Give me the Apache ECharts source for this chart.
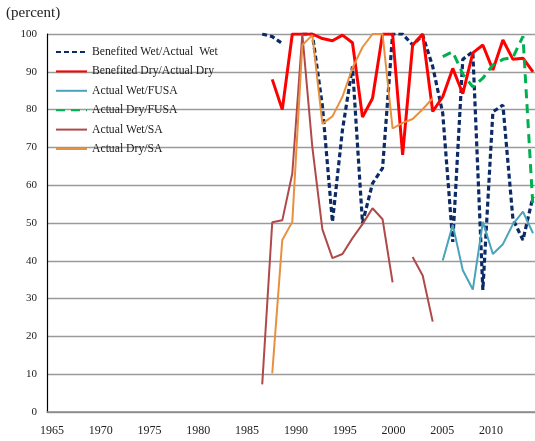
<!DOCTYPE html>
<html>
<head>
<meta charset="utf-8">
<script src="https://cdn.jsdelivr.net/npm/echarts@6/dist/echarts.min.js"></script>
<style>html,body{margin:0;padding:0;background:#fff}#c{width:535px;height:441px}</style>
</head>
<body>
<div id="c"></div>
<script>
// Axis tick labels
var labelYears = [];
for (var y = 1965; y <= 2014; y++) labelYears.push(String(y));

// Data years
var years = [1987,1988,1989,1990,1991,1992,1993,1994,1995,1996,1997,1998,1999,2000,
             2001,2002,2003,2004,2005,2006,2007,2008,2009,2010,2011,2012,2013,2014];

var benefitedWet = [100,99.3,97.5,null,100,100,81,50.3,74.6,91.4,50,60.5,64.5,100,
                    100,97.1,99.7,91.4,79,45,93.3,95.3,32.3,79.4,81.2,51,45.5,57];
var benefitedDry = [null,88,80,100,100,100,98.8,98.2,99.7,97.7,78,83,100,100,
                    68,97.1,100,79.5,83.4,90.9,84.2,95,97.1,90.5,98.4,93.3,93.6,90];
var actualWetFUSA = [null,null,null,null,null,null,null,null,null,null,null,null,null,null,
                     null,null,null,null,40.1,49.5,37.5,32.4,50.3,41.8,44.4,49.7,53,47.3];
var actualDryFUSA = [null,null,null,null,null,null,null,null,null,null,null,null,null,null,
                     null,null,null,null,94,95.3,89.4,86,88.3,91.8,93.3,93.8,99.4,54];
var actualWetSA = [7.3,50.2,50.7,63.1,100,70,48.3,40.7,41.8,46,49.7,53.9,51,34.3,
                   null,41,36.1,23.9,null,null,null,null,null,null,null,null,null,null];
var actualDrySA = [null,10.2,45.5,50.3,97.1,99.7,76.3,78.2,83.4,91,96.5,100,100,75,
                   76.5,77.5,80.1,83,null,null,null,null,null,null,null,null,null,null];

function pairs(arr){ return years.map(function(yr,i){ return [yr, arr[i]]; }); }

var serif = '"Liberation Serif","DejaVu Serif",serif';
var chart = echarts.init(document.getElementById('c'), null, {renderer:'canvas'});

function mk(name, arr, color, width, type){
  return {
    name: name, type: 'line', xAxisIndex: 1, yAxisIndex: 0,
    data: pairs(arr), symbol: 'none', showSymbol: false, connectNulls: false,
    lineStyle: {color: color, width: width, type: type},
    itemStyle: {color: color}, z: 3
  };
}

chart.setOption({
  animation: false,
  title: {text: '(percent)', left: 6, top: 6, padding: 0,
          textStyle: {fontFamily: serif, fontSize: 15, fontWeight: 'normal', color: '#222'}},
  grid: {left: 47, right: -2, top: 34, bottom: 29, containLabel: false},
  legend: {
    orient: 'vertical', left: 55, top: 46, padding: 0,
    itemWidth: 31, itemHeight: 14, itemGap: 7.4,
    itemStyle: {opacity: 0},
    textStyle: {fontFamily: serif, fontSize: 11.7, color: '#222'},
    data: ['Benefited Wet/Actual  Wet','Benefited Dry/Actual Dry','Actual Wet/FUSA',
           'Actual Dry/FUSA','Actual Wet/SA','Actual Dry/SA']
  },
  xAxis: [
    {type: 'category', data: labelYears, boundaryGap: true,
     axisLine: {lineStyle: {color: '#8a8a8a', width: 1.5}},
     axisTick: {show: false},
     axisLabel: {interval: 4, margin: 13, fontFamily: serif, fontSize: 12, color: '#222'},
     splitLine: {show: false}},
    {type: 'value', min: 1965.54, max: 2014.2, show: false, splitLine: {show: false}}
  ],
  yAxis: {
    type: 'value', min: 0, max: 100, interval: 10,
    axisLine: {show: true, lineStyle: {color: '#000', width: 1.2}},
    axisTick: {show: false},
    axisLabel: {margin: 10, fontFamily: serif, fontSize: 11, color: '#222'},
    splitLine: {lineStyle: {color: '#9a9a9a', width: 1.3}}
  },
  series: [
    mk('Benefited Wet/Actual  Wet', benefitedWet, '#0b2a66', 3.2, [5,3]),
    mk('Benefited Dry/Actual Dry', benefitedDry, '#ff0000', 3, 'solid'),
    mk('Actual Wet/FUSA', actualWetFUSA, '#4aa3ba', 2, 'solid'),
    mk('Actual Dry/FUSA', actualDryFUSA, '#00b050', 3, [9,6]),
    mk('Actual Wet/SA', actualWetSA, '#b04a4a', 2, 'solid'),
    mk('Actual Dry/SA', actualDrySA, '#e8903e', 2, 'solid')
  ]
});
</script>
</body>
</html>
